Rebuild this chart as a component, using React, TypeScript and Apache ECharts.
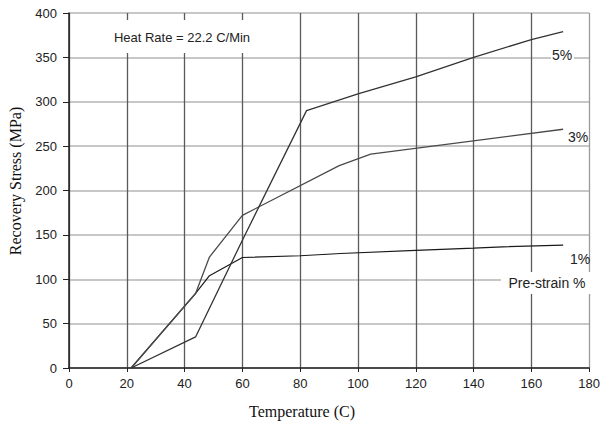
import React, { useEffect, useRef } from "react";
import * as echarts from "echarts";

const xTicks = [0, 20, 40, 60, 80, 100, 120, 140, 160, 180];
const yTicks = [0, 50, 100, 150, 200, 250, 300, 350, 400];

const strain1: [number, number][] = [
  [21.5, 0], [43.8, 84], [48.6, 104], [60, 124.5], [80, 126.5], [94, 129], [120, 132.5], [140, 135], [150, 136.5], [171, 138.5],
];
const strain3: [number, number][] = [
  [21.5, 0], [43.8, 84], [48.6, 125], [60, 172], [93.5, 228], [104.4, 241], [124.5, 249.5], [171, 269],
];
const strain5: [number, number][] = [
  [21.5, 0], [43.8, 35], [60, 144], [82.2, 290], [100, 309], [120, 328], [140, 350], [160, 370], [171, 379],
];

const seriesNames = ["1%", "3%", "5%"];
const annotation = "Heat Rate = 22.2 C/Min";
const legendTitle = "Pre-strain %";
const xTitle = "Temperature (C)";
const yTitle = "Recovery Stress (MPa)";

const sans = "'Liberation Sans', Arial, sans-serif";
const serif = "'Liberation Serif', 'Times New Roman', serif";

export default function App() {
  const ref = useRef<HTMLDivElement>(null);
  useEffect(() => {
    if (!ref.current) return;
    const chart = echarts.init(ref.current, null, { renderer: "svg" });
    const vColors = xTicks.map((_, i) => (i === xTicks.length - 1 ? "#9a9a9a" : "#5a5a5a"));
    chart.setOption({
      animation: false,
      backgroundColor: "#fff",
      grid: { left: 69, right: 12, top: 13, bottom: 55, containLabel: false },
      xAxis: {
        type: "value",
        min: 0,
        max: 180,
        interval: 20,
        axisLine: { show: true, lineStyle: { color: "#222", width: 1.5 } },
        axisTick: { show: true, length: 4, lineStyle: { color: "#222" } },
        axisLabel: { margin: 9, color: "#222", fontSize: 13, fontFamily: sans },
        splitLine: { show: true, lineStyle: { color: vColors, width: 1.3 } },
      },
      yAxis: {
        type: "value",
        min: 0,
        max: 400,
        interval: 50,
        axisLine: { show: true, lineStyle: { color: "#222", width: 1.5 } },
        axisTick: { show: true, length: 6, lineStyle: { color: "#222" } },
        axisLabel: { margin: 12, color: "#222", fontSize: 13, fontFamily: sans },
        splitLine: { show: true, lineStyle: { color: "#b4b4b4", width: 1.5 } },
      },
      series: [
        { name: seriesNames[0], type: "line", data: strain1, showSymbol: false, lineStyle: { color: "#1a1a1a", width: 1.2 }, z: 5 },
        { name: seriesNames[1], type: "line", data: strain3, showSymbol: false, lineStyle: { color: "#4a4a4a", width: 1.3 }, z: 5 },
        { name: seriesNames[2], type: "line", data: strain5, showSymbol: false, lineStyle: { color: "#333", width: 1.3 }, z: 5 },
      ],
      graphic: [
        { type: "rect", shape: { x: 88, y: 20, width: 200, height: 33 }, style: { fill: "#fff" }, z: 10 },
        { type: "text", x: 182, y: 37, style: { text: annotation, font: `13px ${sans}`, fill: "#222", align: "center", verticalAlign: "middle" }, z: 11 },
        { type: "rect", shape: { x: 501, y: 272, width: 93, height: 22 }, style: { fill: "#fff" }, z: 10 },
        { type: "text", x: 547, y: 283, style: { text: legendTitle, font: `14px ${sans}`, fill: "#222", align: "center", verticalAlign: "middle" }, z: 11 },
        { type: "rect", shape: { x: 551, y: 46, width: 23, height: 17 }, style: { fill: "#fff" }, z: 10 },
        { type: "text", x: 562, y: 55, style: { text: seriesNames[2], font: `14px ${sans}`, fill: "#222", align: "center", verticalAlign: "middle" }, z: 11 },
        { type: "text", x: 578, y: 137, style: { text: seriesNames[1], font: `14px ${sans}`, fill: "#222", align: "center", verticalAlign: "middle" }, z: 11 },
        { type: "text", x: 580, y: 259, style: { text: seriesNames[0], font: `14px ${sans}`, fill: "#222", align: "center", verticalAlign: "middle" }, z: 11 },
        { type: "text", x: 302, y: 411, style: { text: xTitle, font: `16px ${serif}`, fill: "#111", align: "center", verticalAlign: "middle" }, z: 11 },
        { type: "text", x: 15, y: 181, rotation: Math.PI / 2, style: { text: yTitle, font: `16px ${serif}`, fill: "#111", align: "center", verticalAlign: "middle" }, z: 11 },
      ],
    });
    return () => chart.dispose();
  }, []);
  return <div ref={ref} style={{ position: "absolute", left: 0, top: 0, width: 603, height: 423 }} />;
}
